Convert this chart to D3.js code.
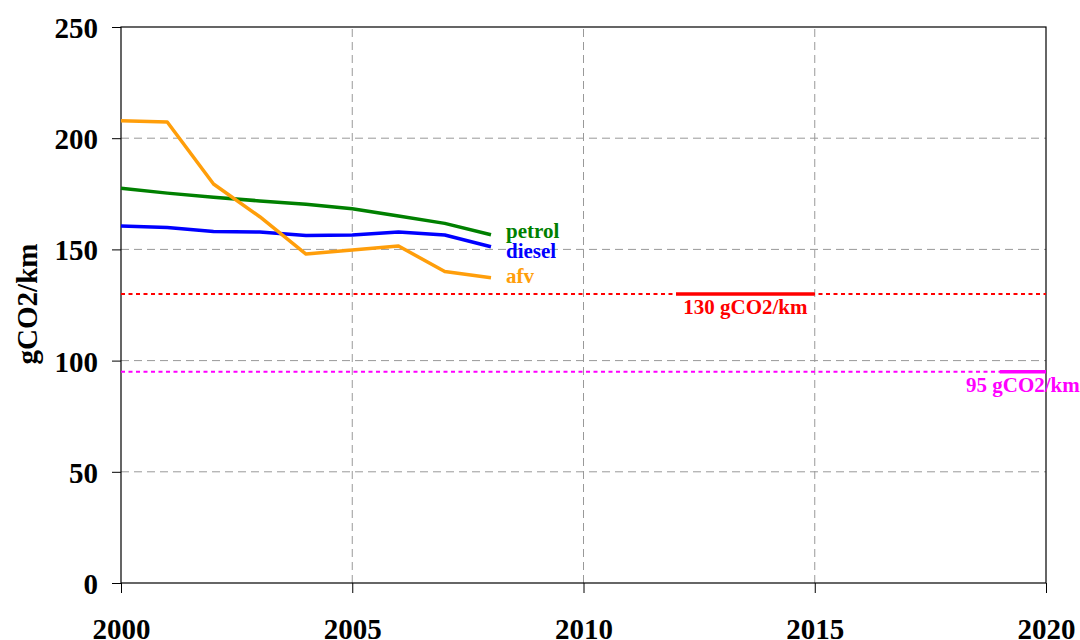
<!DOCTYPE html>
<meta charset="utf-8">
<style>
    body { margin: 0; background: #fff; }
    text { font-family: "Liberation Serif", "Times New Roman", serif; font-weight: bold; }
</style>
<svg width="1080" height="640"></svg>
<script src="https://cdn.jsdelivr.net/npm/d3@7"></script>
<script>

    var years = [2000, 2001, 2002, 2003, 2004, 2005, 2006, 2007, 2008];
    var petrol = [177.5, 175.3, 173.4, 171.8, 170.3, 168.3, 165.0, 161.7, 156.6];
    var diesel = [160.5, 159.9, 158.1, 157.8, 156.2, 156.5, 157.8, 156.5, 151.2];
    var afv = [207.9, 207.3, 179.4, 164.7, 147.9, 149.7, 151.5, 140.1, 137.3];
    var xTicks = [2000, 2005, 2010, 2015, 2020];
    var yTicks = [0, 50, 100, 150, 200, 250];
    var targets = [
        {value: 130, from: 2012, to: 2015, label: "130 gCO2/km", color: "#ff0000"},
        {value: 95, from: 2019, to: 2020, label: "95 gCO2/km", color: "#ff00ff"}
    ];

    var series = [
        {name: "petrol", values: petrol, color: "#008000", dy: 3.5},
        {name: "diesel", values: diesel, color: "#0000ff", dy: 11},
        {name: "afv", values: afv, color: "#ff9e0a", dy: 5.5}
    ];

    var svg = d3.select("svg"),
        margin = {left: 121, right: 34, top: 27, bottom: 57},
        width = 1080 - margin.left - margin.right,
        height = 640 - margin.top - margin.bottom;

    var x = d3.scaleLinear().domain([2000, 2020]).range([margin.left, margin.left + width]);
    var y = d3.scaleLinear().domain([0, 250]).range([margin.top + height, margin.top]);

    // grid
    svg.append("g").selectAll("line")
        .data(yTicks.filter(d => d > 0 && d < 250))
        .enter().append("line")
        .attr("x1", x(2000)).attr("x2", x(2020))
        .attr("y1", d => y(d)).attr("y2", d => y(d))
        .attr("stroke", "#999").attr("stroke-dasharray", "8,5");

    svg.append("g").selectAll("line")
        .data(xTicks.filter(d => d > 2000 && d < 2020))
        .enter().append("line")
        .attr("x1", d => x(d)).attr("x2", d => x(d))
        .attr("y1", y(0)).attr("y2", y(250))
        .attr("stroke", "#999").attr("stroke-dasharray", "8,5");

    // frame
    svg.append("rect")
        .attr("x", x(2000)).attr("y", y(250))
        .attr("width", x(2020) - x(2000)).attr("height", y(0) - y(250))
        .attr("fill", "none").attr("stroke", "#000").attr("stroke-width", 1.2);

    // axes
    var yAxis = svg.append("g")
        .attr("transform", "translate(" + x(2000) + ",0)")
        .call(d3.axisLeft(y).tickValues(yTicks).tickSize(9).tickPadding(14));
    yAxis.select(".domain").remove();
    yAxis.selectAll("text").attr("font-size", 29).attr("font-family", "Liberation Serif").attr("dy", "0.36em");

    var xAxis = svg.append("g")
        .attr("transform", "translate(0," + y(0) + ")")
        .call(d3.axisBottom(x).tickValues(xTicks).tickFormat(d3.format("d")).tickSize(10).tickPadding(25));
    xAxis.select(".domain").remove();
    xAxis.selectAll("text").attr("font-size", 29).attr("font-family", "Liberation Serif");
    svg.selectAll(".tick line").attr("stroke", "#000");

    svg.append("text")
        .attr("transform", "translate(37,304) rotate(-90)")
        .attr("text-anchor", "middle")
        .attr("font-size", 29)
        .text("gCO2/km");

    // targets
    targets.forEach(function (t) {
        svg.append("line")
            .attr("x1", x(2000)).attr("x2", x(2020))
            .attr("y1", y(t.value)).attr("y2", y(t.value))
            .attr("stroke", t.color).attr("stroke-width", 2).attr("stroke-dasharray", "4,3.5");
        svg.append("line")
            .attr("x1", x(t.from)).attr("x2", x(t.to))
            .attr("y1", y(t.value)).attr("y2", y(t.value))
            .attr("stroke", t.color).attr("stroke-width", 3.5);
        svg.append("text")
            .attr("x", (x(t.from) + x(t.to)) / 2)
            .attr("y", y(t.value) + 20)
            .attr("text-anchor", "middle")
            .attr("font-size", 21)
            .attr("fill", t.color)
            .text(t.label);
    });

    // series
    var line = d3.line()
        .x((d, i) => x(years[i]))
        .y(d => y(d));

    series.forEach(function (s) {
        svg.append("path")
            .attr("d", line(s.values))
            .attr("fill", "none")
            .attr("stroke", s.color)
            .attr("stroke-width", 3.5)
            .attr("stroke-linejoin", "round");
        svg.append("text")
            .attr("x", x(years[years.length - 1]) + 15)
            .attr("y", y(s.values[s.values.length - 1]) + s.dy)
            .attr("font-size", 21)
            .attr("fill", s.color)
            .text(s.name);
    });

</script>
